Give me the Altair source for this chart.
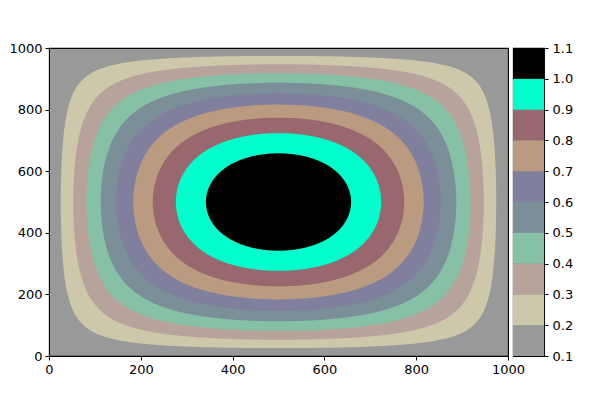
import numpy as np
import pandas as pd
import altair as alt

# Colour bands (lower bound, upper bound) and their colours
LEVELS = [0.1, 0.2, 0.3, 0.4, 0.5, 0.6, 0.7, 0.8, 0.9, 1.0, 1.1]
COLORS = ["#999999", "#cdc8aa", "#b8a39c", "#86c1a6", "#7a8f98",
          "#80809e", "#bb9b80", "#98686e", "#00ffcc", "#000000"]
AXIS_TICKS = [0, 200, 400, 600, 800, 1000]
CBAR_TICKS = LEVELS

# Field: value 0.1 on the border, 1.1 at the centre,
# profile along the centre lines 0.1 + 4 s(1-s) (s = x/1000), separable in x and y.
FIELD_MIN = 0.1
FIELD_AMP = 1.0
DOMAIN_MAX = 1000

rows = []
for i, lev in enumerate(LEVELS[1:-1]):
    a = (lev - FIELD_MIN) / FIELD_AMP
    hw = float(np.sqrt(0.25 - a / 4.0))
    t = np.linspace(0, np.pi, 400)
    xs = 0.5 - hw * np.cos(t)
    for xv in xs:
        xv = float(xv)
        prod = xv * (1 - xv)
        k = a / (16.0 * prod) if prod > 0 else 1.0
        d = float(np.sqrt(max(0.0, 0.25 - k)))
        rows.append({"band": i + 1, "x": xv * DOMAIN_MAX,
                     "y_lo": (0.5 - d) * DOMAIN_MAX, "y_hi": (0.5 + d) * DOMAIN_MAX})
df = pd.DataFrame(rows)

xscale = alt.Scale(domain=[0, DOMAIN_MAX], nice=False, zero=False)
yscale = alt.Scale(domain=[0, DOMAIN_MAX], nice=False, zero=False)

axis_common = dict(values=AXIS_TICKS, format="d", grid=False, domain=False,
                   tickColor="black", tickSize=4, labelColor="black", labelFontSize=13,
                   labelFont="DejaVu Sans", labelPadding=3, title=None,
                   labelFlush=False, labelOverlap=False)

base = alt.Chart(df)
layers = []
for i in range(1, len(COLORS)):
    layers.append(
        base.transform_filter(alt.datum.band == i).mark_area(color=COLORS[i], clip=True).encode(
            x=alt.X("x:Q", scale=xscale, axis=alt.Axis(**axis_common)),
            y=alt.Y("y_hi:Q", scale=yscale, axis=alt.Axis(**axis_common)),
            y2="y_lo:Q",
        )
    )

main = alt.layer(*layers).properties(width=459, height=308)

bands = pd.DataFrame({"lo": LEVELS[:-1], "hi": LEVELS[1:], "color": COLORS})
cbar = alt.Chart(bands).mark_rect().encode(
    x=alt.value(0), x2=alt.value(31),
    y=alt.Y("lo:Q", scale=alt.Scale(domain=[0.1, 1.1], nice=False, zero=False),
            axis=alt.Axis(orient="right", values=CBAR_TICKS, format=".1f",
                          grid=False, domain=False, tickColor="black", tickSize=4,
                          labelColor="black", labelFontSize=13,
                          labelFont="DejaVu Sans", labelPadding=4, title=None,
                          labelFlush=False, labelOverlap=False)),
    y2="hi:Q",
    color=alt.Color("color:N", scale=None),
).properties(width=31, height=308)

chart = alt.hconcat(main, cbar, spacing=5, bounds="flush").properties(
    padding={"left": 0, "top": 33, "right": 5, "bottom": 5},
    background="white",
).configure_view(
    fill="#999999", stroke="black", strokeWidth=1.1
)

chart.save("out.html", embed_options={"renderer": "svg", "actions": False})
